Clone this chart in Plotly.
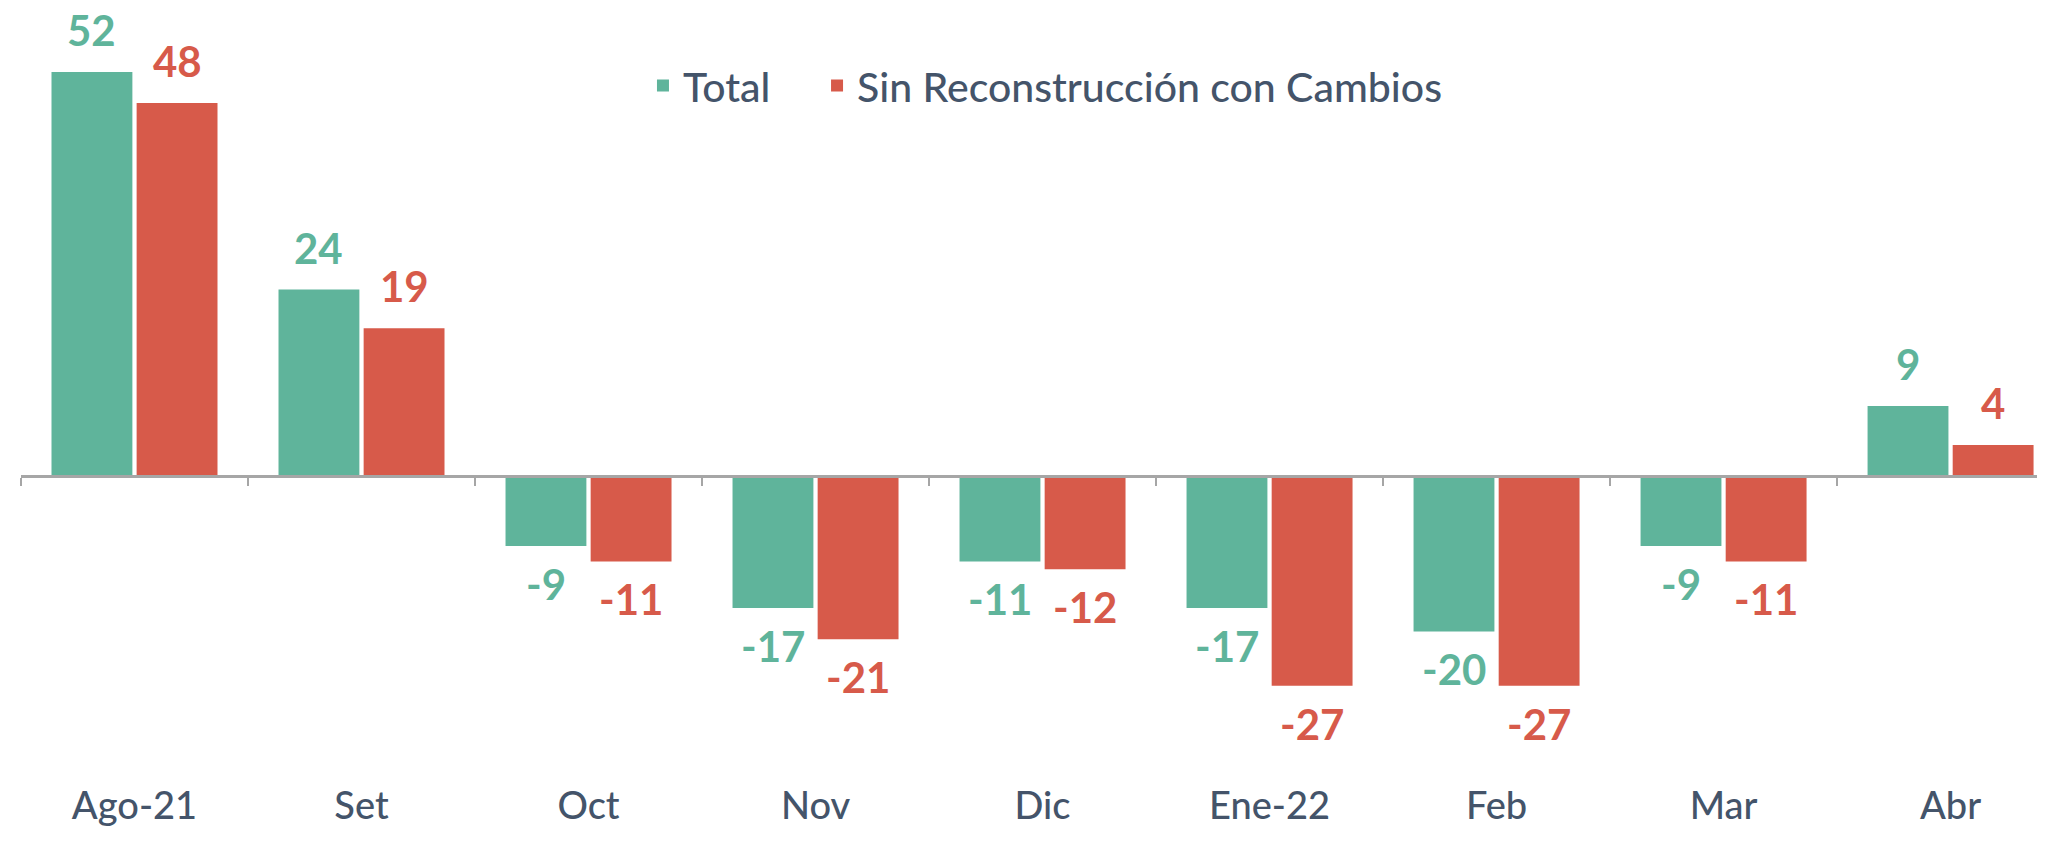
import plotly.graph_objects as go

categories = ["Ago-21", "Set", "Oct", "Nov", "Dic", "Ene-22", "Feb", "Mar", "Abr"]
total = [52, 24, -9, -17, -11, -17, -20, -9, 9]
sin_rec = [48, 19, -11, -21, -12, -27, -27, -11, 4]
series_names = ["Total", "Sin Reconstrucción con Cambios"]

GREEN = "#5FB49B"
RED = "#D75A4A"
TEXT = "#44546A"
AXIS = "#A6A6A6"
FONT = "Lato"

# page body has an 8px default margin; figure sized to fit inside the window
W, H = 2037, 835
ML, MR, MT, MB = 13, 0, 0, 63
PX_PER_UNIT = 7.77
plot_h = H - MT - MB
YMAX = 468 / PX_PER_UNIT
YMIN = -(plot_h - 468) / PX_PER_UNIT
XMIN, XMAX = -0.5, 8.416

fig = go.Figure()
fig.add_trace(go.Bar(x=categories, y=total, name=series_names[0], legend="legend",
                     marker=dict(color=GREEN, line=dict(width=0))))
fig.add_trace(go.Bar(x=categories, y=sin_rec, name=series_names[1], legend="legend2",
                     marker=dict(color=RED, line=dict(width=0))))

# value labels
slot_px = (W - ML - MR) / (XMAX - XMIN) * (1 - 0.25) / 2
for vals, col, sh in [(total, GREEN, -slot_px / 2), (sin_rec, RED, slot_px / 2)]:
    for c, v in zip(categories, vals):
        fig.add_annotation(x=c, y=v, xref="x", yref="y", text=f"<b>{v}</b>",
                           showarrow=False, xshift=sh,
                           yshift=42 if v >= 0 else -38,
                           yanchor="middle", xanchor="center",
                           font=dict(family=FONT, size=42, color=col))

zero_pos = (0 - YMIN) / (YMAX - YMIN)
legend_font = dict(family=FONT, size=41, color=TEXT, weight=500)

fig.update_layout(
    width=W, height=H,
    margin=dict(l=ML, r=MR, t=MT, b=MB, autoexpand=False),
    paper_bgcolor="white", plot_bgcolor="white",
    barmode="group", bargap=0.25, bargroupgap=0.05,
    font=dict(family=FONT, color=TEXT),
    showlegend=True,
    legend=dict(orientation="h", x=0.3073, xanchor="left", y=0.899, yanchor="middle",
                font=legend_font, bgcolor="rgba(0,0,0,0)", itemwidth=30),
    legend2=dict(orientation="h", x=0.3933, xanchor="left", y=0.899, yanchor="middle",
                 font=legend_font, bgcolor="rgba(0,0,0,0)", itemwidth=30),
    xaxis=dict(type="category", categoryarray=categories, categoryorder="array",
               range=[XMIN, XMAX], anchor="free", position=zero_pos,
               showline=True, linecolor=AXIS, linewidth=2.5,
               ticks="outside", tickson="boundaries", ticklen=8, tickwidth=2,
               tickcolor=AXIS, showgrid=False, zeroline=False,
               tickfont=dict(family=FONT, size=38, color=TEXT, weight=500),
               ticklabelstandoff=296, automargin=False, fixedrange=True),
    yaxis=dict(range=[YMIN, YMAX], visible=False, showgrid=False,
               zeroline=False, fixedrange=True),
)

fig.write_html("out.html")
